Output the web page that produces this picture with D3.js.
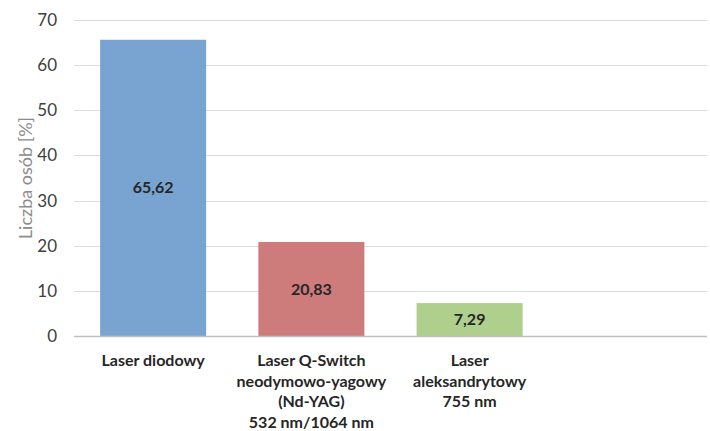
<!DOCTYPE html>
<html><head><meta charset="utf-8">
<script src="https://cdn.jsdelivr.net/npm/d3@7"></script>
<style>body{margin:0;background:#fff}svg{display:block}</style>
</head><body>
<script>
const categories = [
  ["Laser diodowy"],
  ["Laser Q-Switch", "neodymowo-yagowy", "(Nd-YAG)", "532 nm/1064 nm"],
  ["Laser", "aleksandrytowy", "755 nm"],
  [""]
];
const values = [65.62, 20.83, 7.29, null];
const valueLabels = ["65,62", "20,83", "7,29", ""];
const colors = ["#729fcf", "#cb7474", "#abcc86", "#ffffff"];
const yTicks = [0, 10, 20, 30, 40, 50, 60, 70];
const yTitle = "Liczba osób [%]";

const W = 710, H = 431;
const m = {left: 74, right: 3, top: 20, bottom: 95};
const svg = d3.select("body").append("svg").attr("width", W).attr("height", H);
const font = "Lato, 'Open Sans', sans-serif";

const x = d3.scaleBand().domain(d3.range(categories.length)).range([m.left, W - m.right]).paddingInner(0.33).paddingOuter(0.165);
const y = d3.scaleLinear().domain([0, 70]).range([H - m.bottom, m.top]);

// gridlines
svg.append("g").selectAll("line").data(yTicks.filter(d => d > 0)).join("line")
  .attr("x1", m.left).attr("x2", W - m.right)
  .attr("y1", d => Math.round(y(d)) + 0.5).attr("y2", d => Math.round(y(d)) + 0.5)
  .attr("stroke", "#dcdcdc").attr("stroke-width", 1);

// bars
const idx = d3.range(values.length).filter(i => values[i] != null);
svg.append("g").selectAll("rect").data(idx).join("rect")
  .attr("x", i => x(i)).attr("width", x.bandwidth())
  .attr("y", i => y(values[i])).attr("height", i => y(0) - y(values[i]))
  .attr("fill", i => colors[i]).attr("fill-opacity", 0.95);

// baseline
svg.append("line").attr("x1", m.left).attr("x2", W - m.right)
  .attr("y1", y(0) + 0.5).attr("y2", y(0) + 0.5)
  .attr("stroke", "#bfbfbf").attr("stroke-width", 1.5);

// value labels
svg.append("g").selectAll("text").data(idx).join("text")
  .attr("x", i => x(i) + x.bandwidth() / 2)
  .attr("y", i => (y(values[i]) + y(0)) / 2)
  .attr("dy", "0.35em").attr("text-anchor", "middle")
  .attr("font-family", font).attr("font-weight", "bold").attr("font-size", 16)
  .attr("fill", "#262626").text(i => valueLabels[i]);

// y axis tick labels
const yAxis = d3.axisLeft(y).tickValues(yTicks).tickSize(0).tickPadding(17).tickFormat(d3.format("d"));
const ga = svg.append("g").attr("transform", `translate(${m.left},0)`).call(yAxis);
ga.select(".domain").remove();
ga.selectAll("text").attr("font-family", font).attr("font-size", 17).attr("fill", "#404040");

// y title
svg.append("text").attr("transform", `translate(26,${(y(0) + y(70)) / 2}) rotate(-90)`)
  .attr("text-anchor", "middle").attr("dy", "0.35em")
  .attr("font-family", font).attr("font-size", 18).attr("fill", "#8c8c8c").text(yTitle);

// category labels
const cg = svg.append("g").selectAll("text").data(categories.map((c, i) => ({c, i}))).join("text")
  .attr("text-anchor", "middle")
  .attr("font-family", font).attr("font-weight", "bold").attr("font-size", 16).attr("fill", "#262626");
cg.selectAll("tspan").data(d => d.c.map(t => ({t, i: d.i}))).join("tspan")
  .attr("x", d => x(d.i) + x.bandwidth() / 2)
  .attr("y", (d, j) => 366 + j * 20.7)
  .text(d => d.t);
</script>
</body></html>
